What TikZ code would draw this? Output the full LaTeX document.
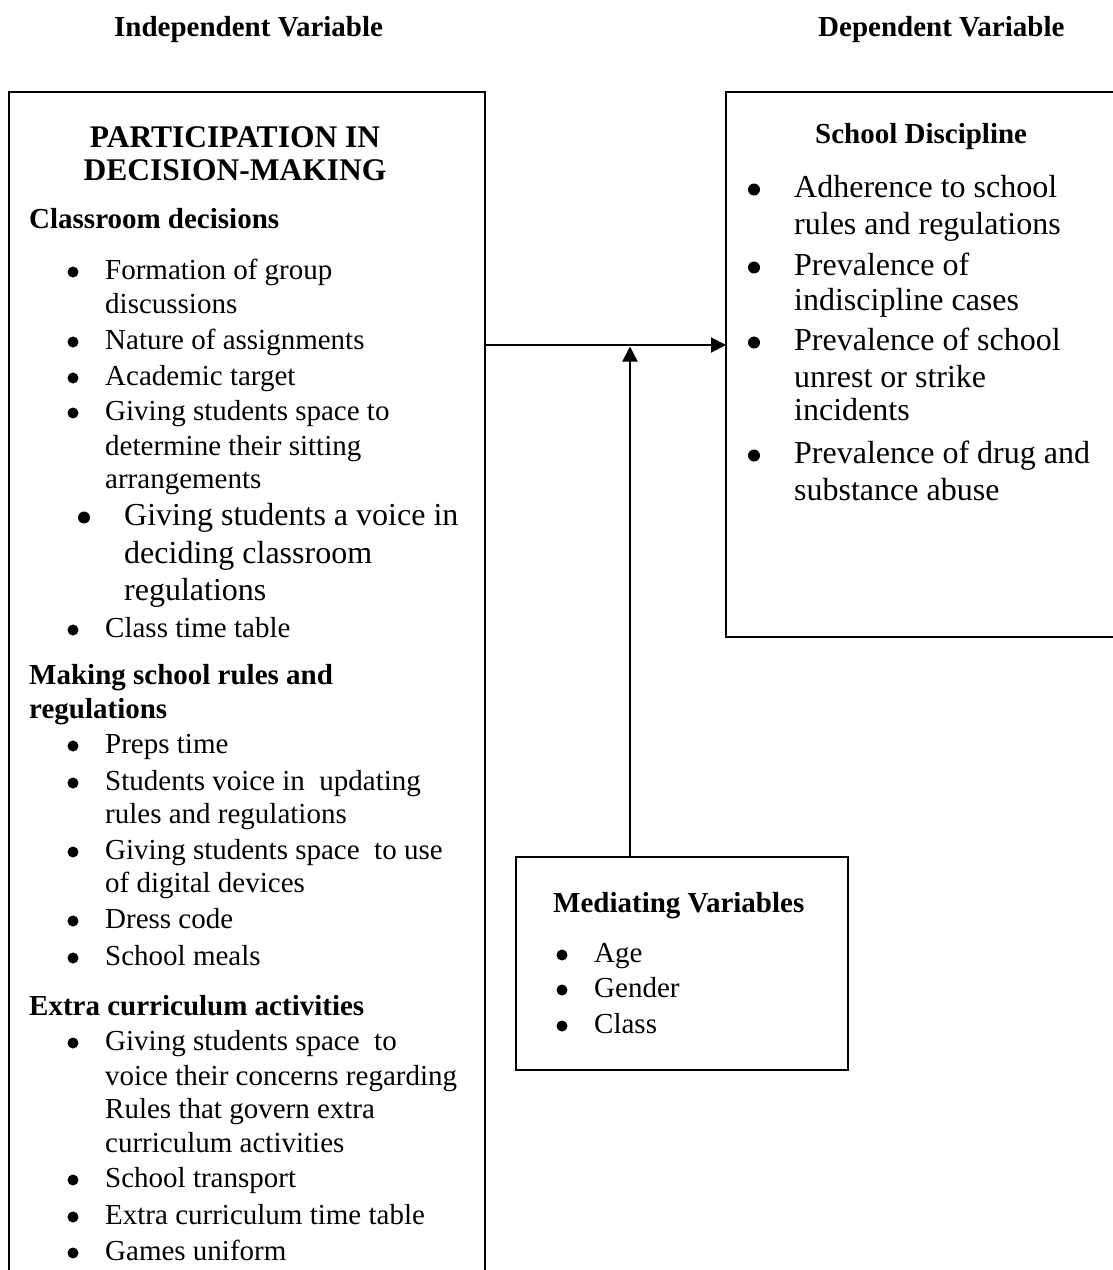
\documentclass[tikz,border=0pt]{standalone}
\usepackage{fontspec}
\setmainfont{Liberation Serif}
\usetikzlibrary{arrows.meta}
\tikzset{
  txt/.style={anchor=base west, inner sep=0pt, font=\fontsize{29}{35}\selectfont},
  bigtxt/.style={anchor=base west, inner sep=0pt, font=\fontsize{32}{37}\selectfont},
  hd/.style={anchor=base west, inner sep=0pt, font=\bfseries\fontsize{29}{35}\selectfont},
  title/.style={anchor=base, inner sep=0pt, font=\bfseries\fontsize{31.5}{37}\selectfont},
  bul/.style={circle, fill=black, inner sep=0pt, minimum size=11pt, yshift=7pt},
  bigbul/.style={circle, fill=black, inner sep=0pt, minimum size=12pt, yshift=7.5pt},
  box/.style={draw, line width=2.7pt, anchor=north west, inner sep=0pt, outer sep=0pt},
  conn/.style={line width=2pt, -{Triangle[length=15pt,width=15pt]}}
}
\begin{document}
\begin{tikzpicture}[x=1pt,y=1pt]
\useasboundingbox (0,0) rectangle (1113,-1270);
\fill[white] (0,0) rectangle (1113,-1270);
\clip (0,0) rectangle (1113,-1270);

% headings
\node[hd] (hiv) at (114,-36) {Independent Variable};
\node[hd] (hdv) at (818,-36) {Dependent Variable};

% boxes
\node[box, minimum width=476pt, minimum height=1200pt] (iv) at (9,-92) {};
\node[box, minimum width=420pt, minimum height=545pt] (dv) at (726,-92) {};
\node[box, minimum width=332pt, minimum height=213pt] (mv) at (516,-857) {};

% left box content
\node[title] (t1) at (235,-147) {PARTICIPATION IN};
\node[title] (t2) at (235,-180) {DECISION-MAKING};

\node[hd] (h1) at (29,-228) {Classroom decisions};
\node[bul] (b1) at (73,-279) {};
\node[txt] (l1) at (105,-279) {Formation of group};
\node[txt] (l2) at (105,-313) {discussions};
\node[bul] (b2) at (73,-349) {};
\node[txt] (l3) at (105,-349) {Nature of assignments};
\node[bul] (b3) at (73,-385) {};
\node[txt] (l4) at (105,-385) {Academic target};
\node[bul] (b4) at (73,-420) {};
\node[txt] (l5) at (105,-420) {Giving students space to};
\node[txt] (l6) at (105,-455) {determine their sitting};
\node[txt] (l7) at (105,-488) {arrangements};
\node[bigbul] (b5) at (84,-525) {};
\node[bigtxt] (l8) at (124,-525) {Giving students a voice in};
\node[bigtxt] (l9) at (124,-563) {deciding classroom};
\node[bigtxt] (l10) at (124,-600) {regulations};
\node[bul] (b6) at (73,-637) {};
\node[txt] (l11) at (105,-637) {Class time table};

\node[hd] (h2) at (29,-684) {Making school rules and};
\node[hd] (h3) at (29,-718) {regulations};
\node[bul] (b7) at (73,-753) {};
\node[txt] (l12) at (105,-753) {Preps time};
\node[bul] (b8) at (73,-790) {};
\node[txt] (l13) at (105,-790) {Students voice in\ \ updating};
\node[txt] (l14) at (105,-823) {rules and regulations};
\node[bul] (b9) at (73,-859) {};
\node[txt] (l15) at (105,-859) {Giving students space\ \ to use};
\node[txt] (l16) at (105,-892) {of digital devices};
\node[bul] (b10) at (73,-928) {};
\node[txt] (l17) at (105,-928) {Dress code};
\node[bul] (b11) at (73,-965) {};
\node[txt] (l18) at (105,-965) {School meals};

\node[hd] (h4) at (29,-1015) {Extra curriculum activities};
\node[bul] (b12) at (73,-1050) {};
\node[txt] (l19) at (105,-1050) {Giving students space\ \ to};
\node[txt] (l20) at (105,-1085) {voice their concerns regarding};
\node[txt] (l21) at (105,-1118) {Rules that govern extra};
\node[txt] (l22) at (105,-1152) {curriculum activities};
\node[bul] (b13) at (73,-1187) {};
\node[txt] (l23) at (105,-1187) {School transport};
\node[bul] (b14) at (73,-1224) {};
\node[txt] (l24) at (105,-1224) {Extra curriculum time table};
\node[bul] (b15) at (73,-1260) {};
\node[txt] (l25) at (105,-1260) {Games uniform};

% right box content
\node[hd] (h5) at (815,-143) {School Discipline};
\node[bigbul] (r1) at (754,-197) {};
\node[bigtxt] (s1) at (794,-197) {Adherence to school};
\node[bigtxt] (s2) at (794,-234) {rules and regulations};
\node[bigbul] (r2) at (754,-275) {};
\node[bigtxt] (s3) at (794,-275) {Prevalence of};
\node[bigtxt] (s4) at (794,-310) {indiscipline cases};
\node[bigbul] (r3) at (754,-350) {};
\node[bigtxt] (s5) at (794,-350) {Prevalence of school};
\node[bigtxt] (s6) at (794,-387) {unrest or strike};
\node[bigtxt] (s7) at (794,-420) {incidents};
\node[bigbul] (r4) at (754,-463) {};
\node[bigtxt] (s8) at (794,-463) {Prevalence of drug and};
\node[bigtxt] (s9) at (794,-500) {substance abuse};

% mediating box content
\node[hd] (h6) at (553,-912) {Mediating Variables};
\node[bul] (m1) at (562,-962) {};
\node[txt] (n1) at (594,-962) {Age};
\node[bul] (m2) at (562,-997) {};
\node[txt] (n2) at (594,-997) {Gender};
\node[bul] (m3) at (562,-1033) {};
\node[txt] (n3) at (594,-1033) {Class};

% connectors
\coordinate (j) at (630,-345);
\draw[conn] (iv.east |- j) -- (dv.west |- j);
\draw[conn] (mv.north -| j) -- ([yshift=-1.5pt]j);
\end{tikzpicture}
\end{document}
